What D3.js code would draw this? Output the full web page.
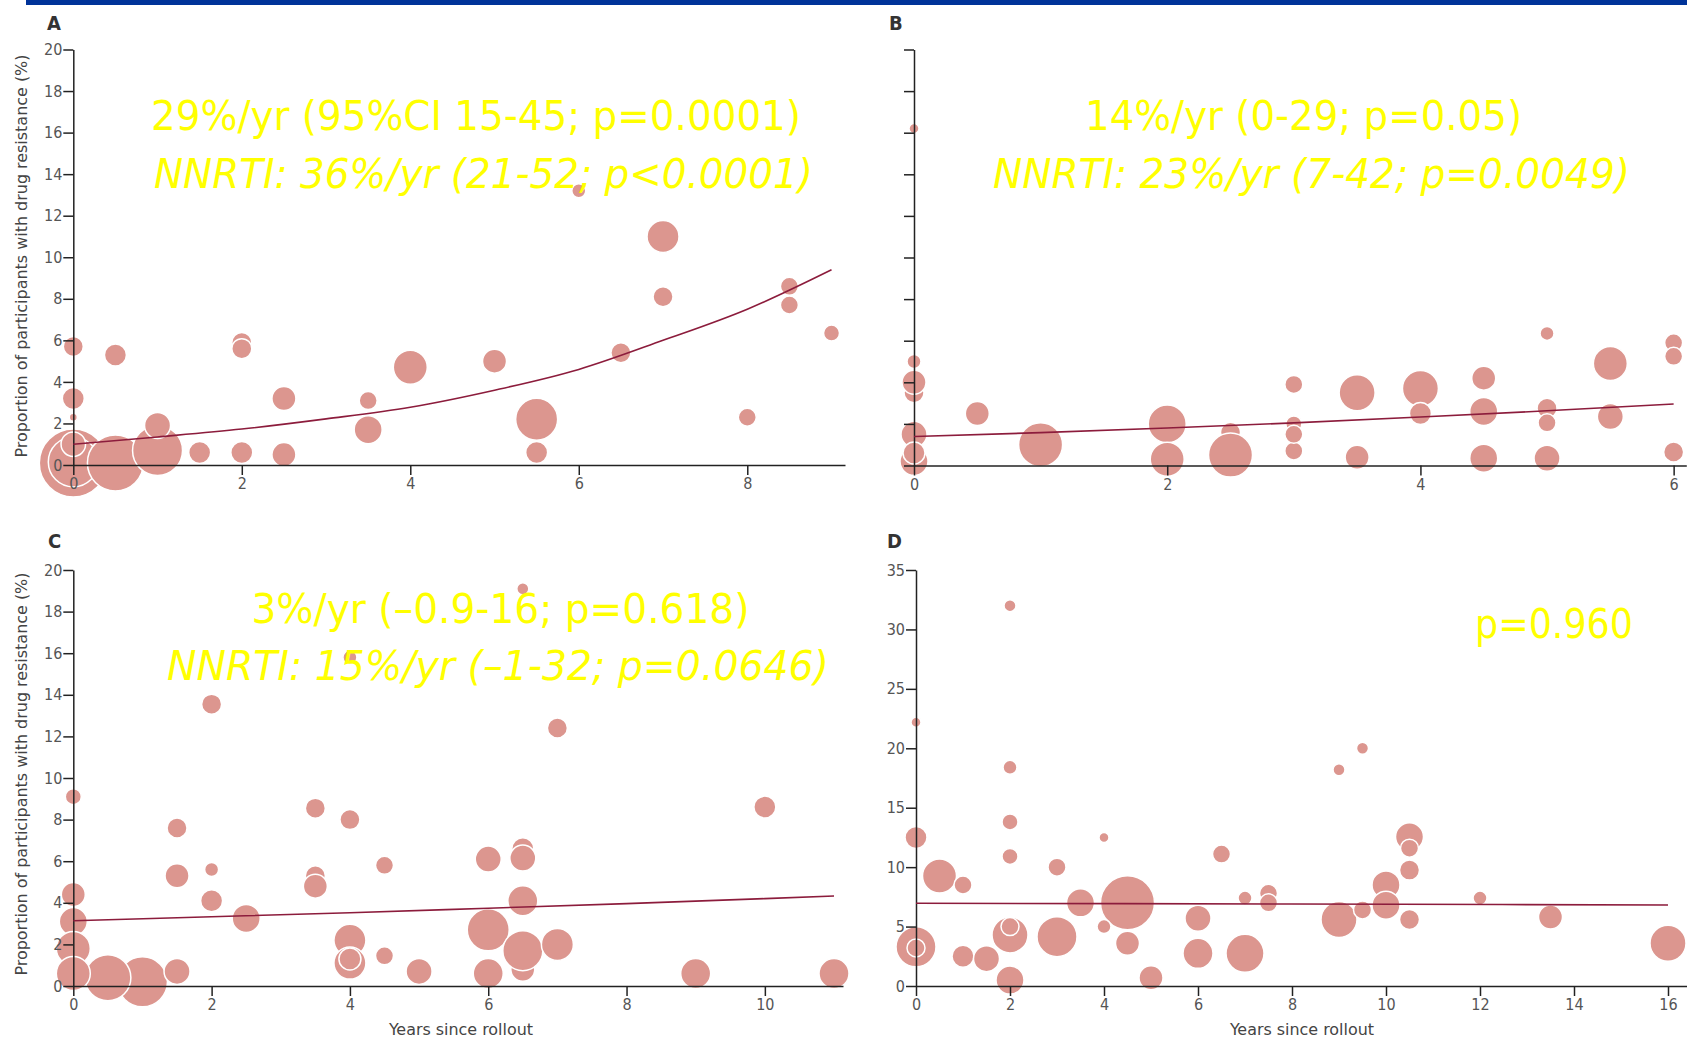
<!DOCTYPE html>
<html>
<head>
<meta charset="utf-8">
<script src="https://cdn.jsdelivr.net/npm/d3@7"></script>
<style>
  body { margin: 0; background: #fff; }
  .tick text { font-family: "DejaVu Sans Condensed", "Liberation Sans Narrow", "DejaVu Sans", sans-serif; fill: #555; }
  .axis path, .axis line { stroke: #222; stroke-width: 1.5; }
  .note { font-family: "DejaVu Sans Condensed", "DejaVu Sans", sans-serif; fill: #ffff00; }
  .letter { font-family: "DejaVu Sans Condensed", "DejaVu Sans", sans-serif; font-weight: bold; fill: #333; }
  .title { font-family: "DejaVu Sans Condensed", "Liberation Sans Narrow", "DejaVu Sans", sans-serif; fill: #444; }
</style>
</head>
<body>
<svg id="chart" width="1687" height="1045"></svg>
<script>
// bubbles: [years since rollout, % with resistance, participants]
var bubblesA = [
  [0, 0.1, 1156], [0, 0.15, 625], [0, 1.0, 150], [0, 2.3, 16], [0, 3.2, 121], [0, 5.7, 100],
  [0.5, 5.3, 121], [0.5, 0.1, 784], [1, 0.7, 625], [1, 1.9, 169], [1.5, 0.6, 121],
  [2, 5.9, 100], [2, 5.6, 100], [2, 0.6, 121], [2.5, 3.2, 144], [2.5, 0.5, 144],
  [3.5, 3.1, 81], [3.5, 1.7, 196], [4, 4.7, 289], [5, 5.0, 144], [5.5, 2.2, 441], [5.5, 0.6, 121],
  [6, 13.2, 49], [6.5, 5.4, 100], [7, 11, 256], [7, 8.1, 100], [8, 2.3, 81],
  [8.5, 8.6, 81], [8.5, 7.7, 81], [9, 6.35, 64]
];
var bubblesB = [
  [0, 16.2, 25], [0, 5.0, 49], [0, 3.5, 100], [0, 4.0, 144], [0, 1.5, 169], [0, 0.2, 196], [0, 0.6, 121],
  [0.5, 2.5, 144], [1, 1.0, 484], [2, 2.0, 361], [2, 0.3, 289], [2.5, 1.6, 100], [2.5, 0.5, 484],
  [3, 3.9, 81], [3, 2.0, 64], [3, 0.7, 81], [3, 1.5, 81], [3.5, 3.5, 324], [3.5, 0.4, 144],
  [4, 3.7, 324], [4, 2.5, 121], [4.5, 4.2, 144], [4.5, 2.6, 196], [4.5, 0.35, 196],
  [5, 6.35, 49], [5, 2.75, 100], [5, 2.05, 81], [5, 0.35, 169], [5.5, 4.9, 289], [5.5, 2.35, 169],
  [6, 5.9, 81], [6, 5.25, 81], [6, 0.65, 100]
];
var bubblesC = [
  [1, 0.2, 625], [0.5, 0.4, 529], [0, 9.1, 64], [0, 4.4, 144], [0, 3.1, 196], [0, 1.8, 289], [0, 0.6, 289],
  [1.5, 0.7, 169], [1.5, 5.3, 144], [1.5, 7.6, 100], [2, 13.55, 100], [2, 5.6, 49], [2, 4.1, 121],
  [2.5, 3.25, 196], [3.5, 8.55, 100], [3.5, 5.3, 100], [3.5, 4.8, 144],
  [4, 8.0, 100], [4, 15.8, 49], [4, 2.2, 256], [4, 1.1, 256], [4, 1.3, 121],
  [4.5, 5.8, 81], [4.5, 1.45, 81], [5, 0.7, 169], [6, 6.1, 169], [6, 2.7, 441], [6, 0.6, 225],
  [6.5, 6.6, 121], [6.5, 6.15, 169], [6.5, 4.1, 225], [6.5, 0.8, 144], [6.5, 1.7, 400], [6.5, 19.1, 36],
  [7, 12.4, 100], [7, 2.0, 256], [9, 0.6, 225], [10, 8.6, 121], [11, 0.6, 225]
];
var bubblesD = [
  [0, 22.2, 25], [0, 12.5, 121], [0, 3.3, 400], [0, 3.2, 81], [0.5, 9.25, 289], [1, 8.5, 81],
  [1, 2.5, 121], [1.5, 2.3, 169], [2, 32, 36], [2, 18.4, 49], [2, 13.8, 64], [2, 10.9, 64],
  [2, 4.3, 324], [2, 5.0, 81], [2, 0.5, 196], [3, 10.0, 81], [3, 4.15, 400], [3.5, 7.0, 196],
  [4, 12.5, 25], [4.5, 3.6, 144], [4.5, 7.0, 729], [4, 5.0, 49], [5, 0.7, 144],
  [6, 5.7, 169], [6, 2.75, 225], [6.5, 11.1, 81], [7, 2.75, 361], [7, 7.4, 49],
  [7.5, 7.8, 81], [7.5, 7.0, 81], [9, 18.2, 36], [9.5, 20, 36], [9, 5.6, 324], [9.5, 6.4, 81],
  [10, 8.5, 196], [10, 6.8, 196], [10.5, 12.55, 196], [10.5, 11.6, 81], [10.5, 9.75, 100],
  [10.5, 5.6, 100], [12, 7.4, 49], [13.5, 5.8, 144], [16, 3.6, 324]
];

// fitted trend
var fitA = [[0, 1.0], [1, 1.35], [2, 1.73], [3, 2.22], [4, 2.78], [5, 3.6], [6, 4.6], [7, 6.0], [8, 7.5], [9, 9.4]];
var fitB = [[0, 1.39], [1, 1.58], [2, 1.8], [3, 2.05], [4, 2.33], [5, 2.63], [6, 2.96]];
var fitC = [[0, 3.14], [2, 3.33], [4, 3.52], [6, 3.74], [8, 3.96], [10, 4.2], [11, 4.33]];
var fitD = [[0, 6.96], [8, 6.9], [16, 6.81]];

// ticks
var xTicksA = [0, 2, 4, 6, 8];
var xTicksB = [0, 2, 4, 6];
var xTicksC = [0, 2, 4, 6, 8, 10];
var xTicksD = [0, 2, 4, 6, 8, 10, 12, 14, 16];
var yTicks20 = [0, 2, 4, 6, 8, 10, 12, 14, 16, 18, 20];
var yTicks35 = [0, 5, 10, 15, 20, 25, 30, 35];

// annotations
var notesA = ["29%/yr (95%CI 15-45; p=0.0001)", "NNRTI: 36%/yr (21-52; p<0.0001)"];
var notesB = ["14%/yr (0-29; p=0.05)", "NNRTI: 23%/yr (7-42; p=0.0049)"];
var notesC = ["3%/yr (\u20130.9-16; p=0.618)", "NNRTI: 15%/yr (\u20131-32; p=0.0646)"];
var notesD = ["p=0.960"];

var yTitle = "Proportion of participants with drug resistance (%)";
var xTitle = "Years since rollout";

var svg = d3.select("#chart");

// dark blue band at the top
svg.append("rect").attr("x", 26).attr("y", 0).attr("width", 1661).attr("height", 5).attr("fill", "#003399");

var radius = d3.scaleSqrt().domain([0, 1600]).range([0, 40]);
var fmt = d3.format("d");

var panels = [
  { letter: "A", lx: 47, ly: 30, bubbles: bubblesA, fit: fitA, xMax: 9.16, xr: [73.3, 845], yMax: 20, yr: [465, 49.5],
    xTicks: xTicksA, yTicks: yTicks20, yLabels: true, yTitleY: 256, xTitleX: null,
    notes: notesA, noteX: [151, 154], noteW: [650, 659], noteY: [130, 188] },
  { letter: "B", lx: 889, ly: 30, bubbles: bubblesB, fit: fitB, xMax: 6.1, xr: [914, 1686.3], yMax: 20, yr: [465.5, 49.5],
    xTicks: xTicksB, yTicks: yTicks20, yLabels: false, yTitleY: null, xTitleX: null,
    notes: notesB, noteX: [1085, 993], noteW: [437, 637], noteY: [130, 188] },
  { letter: "C", lx: 48, ly: 548, bubbles: bubblesC, fit: fitC, xMax: 11.13, xr: [73.3, 843], yMax: 20, yr: [986, 570],
    xTicks: xTicksC, yTicks: yTicks20, yLabels: true, yTitleY: 774, xTitleX: 461,
    notes: notesC, noteX: [251.5, 167], noteW: [498, 662], noteY: [623, 680] },
  { letter: "D", lx: 887, ly: 548, bubbles: bubblesD, fit: fitD, xMax: 16.4, xr: [916, 1686.8], yMax: 35, yr: [986, 570],
    xTicks: xTicksD, yTicks: yTicks35, yLabels: true, yTitleY: null, xTitleX: 1302,
    notes: notesD, noteX: [1475], noteW: [158], noteY: [638] }
];

panels.forEach(drawPanel);

function drawPanel(p) {
  var x = d3.scaleLinear().domain([0, p.xMax]).range(p.xr);
  var y = d3.scaleLinear().domain([0, p.yMax]).range(p.yr);
  var g = svg.append("g");

  // bubbles
  g.append("g")
    .selectAll("circle")
    .data(p.bubbles)
    .enter()
    .append("circle")
    .attr("cx", function (d) { return x(d[0]); })
    .attr("cy", function (d) { return y(d[1]); })
    .attr("r", function (d) { return radius(d[2]); })
    .attr("fill", "#dc968f")
    .attr("stroke", "#fff")
    .attr("stroke-width", 1.5);

  // axes
  var yAxis = d3.axisLeft(y).tickValues(p.yTicks).tickSize(10).tickSizeOuter(0).tickPadding(1)
    .tickFormat(p.yLabels ? fmt : "");
  g.append("g")
    .attr("class", "axis")
    .attr("transform", "translate(" + p.xr[0] + ",0)")
    .call(yAxis)
    .selectAll("text").style("font-size", "16px");

  g.append("g")
    .attr("class", "axis")
    .attr("transform", "translate(0," + p.yr[0] + ")")
    .call(d3.axisBottom(x).tickValues(p.xTicks).tickSize(10).tickSizeOuter(0).tickPadding(3).tickFormat(fmt))
    .selectAll("text").style("font-size", "16px");

  // trend line
  var line = d3.line()
    .x(function (d) { return x(d[0]); })
    .y(function (d) { return y(d[1]); })
    .curve(d3.curveMonotoneX);
  g.append("path")
    .datum(p.fit)
    .attr("d", line)
    .attr("fill", "none")
    .attr("stroke", "#8c1c3c")
    .attr("stroke-width", 1.6);

  // panel letter
  g.append("text").attr("class", "letter").attr("x", p.lx).attr("y", p.ly)
    .style("font-size", "20px").text(p.letter);

  // axis titles
  if (p.yTitleY !== null) {
    g.append("text").attr("class", "title")
      .attr("transform", "translate(27," + p.yTitleY + ") rotate(-90)")
      .attr("text-anchor", "middle")
      .attr("textLength", 403).attr("lengthAdjust", "spacingAndGlyphs")
      .style("font-size", "15px")
      .text(yTitle);
  }
  if (p.xTitleX !== null) {
    g.append("text").attr("class", "title")
      .attr("x", p.xTitleX).attr("y", 1035)
      .attr("text-anchor", "middle")
      .attr("textLength", 144).attr("lengthAdjust", "spacingAndGlyphs")
      .style("font-size", "16px")
      .text(xTitle);
  }

  // yellow annotations
  p.notes.forEach(function (t, i) {
    g.append("text").attr("class", "note")
      .attr("x", p.noteX[i]).attr("y", p.noteY[i])
      .attr("textLength", p.noteW[i]).attr("lengthAdjust", "spacingAndGlyphs")
      .style("font-size", "41px")
      .style("font-style", i === 1 ? "italic" : "normal")
      .text(t);
  });
}
</script>
</body>
</html>
